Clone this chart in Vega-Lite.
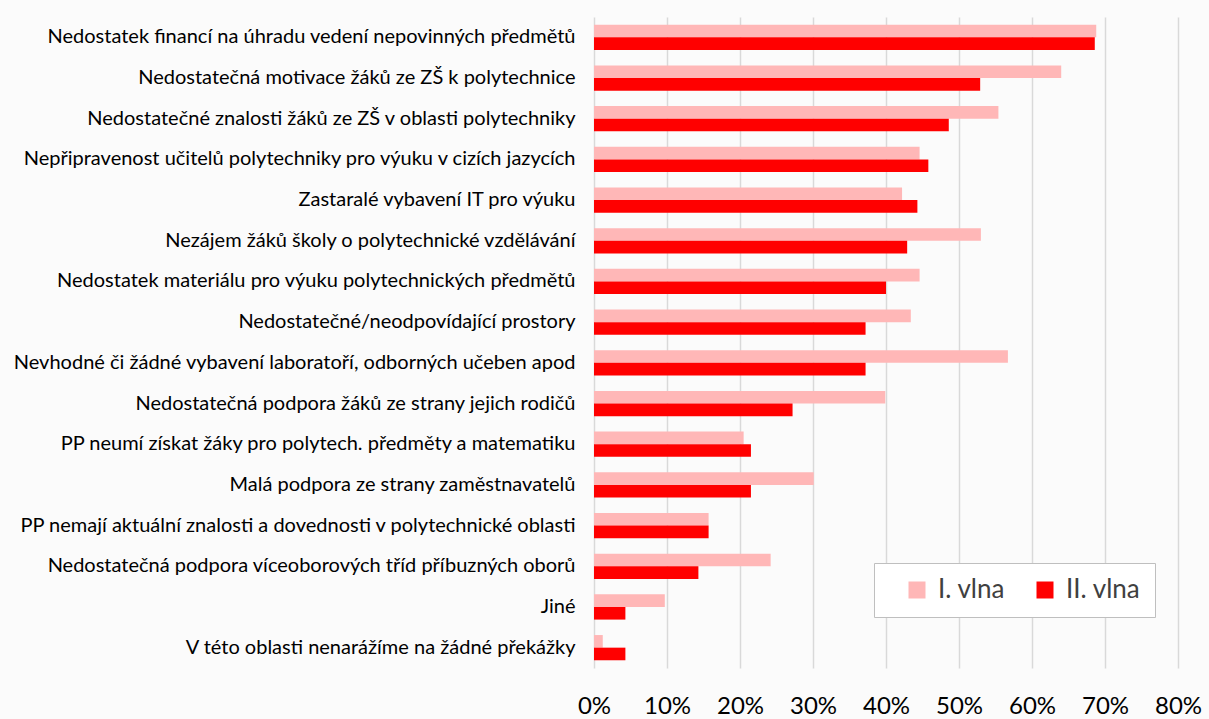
{
  "$schema": "https://vega.github.io/schema/vega-lite/v6.json",
  "width": 584,
  "height": 651,
  "autosize": {"type": "none"},
  "padding": {"left": 594, "top": 17, "right": 31, "bottom": 51},
  "background": "#FBFBFB",
  "config": {
    "view": {"stroke": null},
    "font": "Lato"
  },
  "data": {
    "values": [
      {"kategorie": "Nedostatek financí na úhradu vedení nepovinných předmětů", "vlna": "I. vlna", "podil": 0.688},
      {"kategorie": "Nedostatek financí na úhradu vedení nepovinných předmětů", "vlna": "II. vlna", "podil": 0.686},
      {"kategorie": "Nedostatečná motivace žáků ze ZŠ k polytechnice", "vlna": "I. vlna", "podil": 0.640},
      {"kategorie": "Nedostatečná motivace žáků ze ZŠ k polytechnice", "vlna": "II. vlna", "podil": 0.529},
      {"kategorie": "Nedostatečné znalosti žáků ze ZŠ v oblasti polytechniky", "vlna": "I. vlna", "podil": 0.554},
      {"kategorie": "Nedostatečné znalosti žáků ze ZŠ v oblasti polytechniky", "vlna": "II. vlna", "podil": 0.486},
      {"kategorie": "Nepřipravenost učitelů polytechniky pro výuku v cizích jazycích", "vlna": "I. vlna", "podil": 0.446},
      {"kategorie": "Nepřipravenost učitelů polytechniky pro výuku v cizích jazycích", "vlna": "II. vlna", "podil": 0.458},
      {"kategorie": "Zastaralé vybavení IT pro výuku", "vlna": "I. vlna", "podil": 0.422},
      {"kategorie": "Zastaralé vybavení IT pro výuku", "vlna": "II. vlna", "podil": 0.443},
      {"kategorie": "Nezájem žáků školy o polytechnické vzdělávání", "vlna": "I. vlna", "podil": 0.530},
      {"kategorie": "Nezájem žáků školy o polytechnické vzdělávání", "vlna": "II. vlna", "podil": 0.429},
      {"kategorie": "Nedostatek materiálu pro výuku polytechnických předmětů", "vlna": "I. vlna", "podil": 0.446},
      {"kategorie": "Nedostatek materiálu pro výuku polytechnických předmětů", "vlna": "II. vlna", "podil": 0.400},
      {"kategorie": "Nedostatečné/neodpovídající prostory", "vlna": "I. vlna", "podil": 0.434},
      {"kategorie": "Nedostatečné/neodpovídající prostory", "vlna": "II. vlna", "podil": 0.372},
      {"kategorie": "Nevhodné či žádné vybavení laboratoří, odborných učeben apod", "vlna": "I. vlna", "podil": 0.567},
      {"kategorie": "Nevhodné či žádné vybavení laboratoří, odborných učeben apod", "vlna": "II. vlna", "podil": 0.372},
      {"kategorie": "Nedostatečná podpora žáků ze strany jejich rodičů", "vlna": "I. vlna", "podil": 0.399},
      {"kategorie": "Nedostatečná podpora žáků ze strany jejich rodičů", "vlna": "II. vlna", "podil": 0.272},
      {"kategorie": "PP neumí získat žáky pro polytech. předměty a matematiku", "vlna": "I. vlna", "podil": 0.205},
      {"kategorie": "PP neumí získat žáky pro polytech. předměty a matematiku", "vlna": "II. vlna", "podil": 0.215},
      {"kategorie": "Malá podpora ze strany zaměstnavatelů", "vlna": "I. vlna", "podil": 0.301},
      {"kategorie": "Malá podpora ze strany zaměstnavatelů", "vlna": "II. vlna", "podil": 0.215},
      {"kategorie": "PP nemají aktuální znalosti a dovednosti v polytechnické oblasti", "vlna": "I. vlna", "podil": 0.157},
      {"kategorie": "PP nemají aktuální znalosti a dovednosti v polytechnické oblasti", "vlna": "II. vlna", "podil": 0.157},
      {"kategorie": "Nedostatečná podpora víceoborových tříd příbuzných oborů", "vlna": "I. vlna", "podil": 0.242},
      {"kategorie": "Nedostatečná podpora víceoborových tříd příbuzných oborů", "vlna": "II. vlna", "podil": 0.143},
      {"kategorie": "Jiné", "vlna": "I. vlna", "podil": 0.097},
      {"kategorie": "Jiné", "vlna": "II. vlna", "podil": 0.043},
      {"kategorie": "V této oblasti nenarážíme na žádné překážky", "vlna": "I. vlna", "podil": 0.012},
      {"kategorie": "V této oblasti nenarážíme na žádné překážky", "vlna": "II. vlna", "podil": 0.043}
    ]
  },
  "mark": {"type": "bar"},
  "encoding": {
    "y": {
      "field": "kategorie",
      "type": "nominal",
      "sort": null,
      "scale": {"paddingInner": 0.38, "paddingOuter": 0.19},
      "axis": {
        "title": null,
        "domain": false,
        "ticks": false,
        "labelPadding": 19,
        "labelLimit": 700,
        "labelFontSize": 20,
        "labelColor": "#000000",
        "labelFont": "Lato"
      }
    },
    "yOffset": {
      "field": "vlna",
      "type": "nominal",
      "sort": ["I. vlna", "II. vlna"],
      "scale": {"paddingInner": 0, "paddingOuter": 0}
    },
    "x": {
      "field": "podil",
      "type": "quantitative",
      "scale": {"domain": [0, 0.8], "nice": false},
      "axis": {
        "title": null,
        "format": ".0%",
        "values": [0, 0.1, 0.2, 0.3, 0.4, 0.5, 0.6, 0.7, 0.8],
        "domain": false,
        "ticks": false,
        "grid": true,
        "gridColor": "#D9D9D9",
        "gridWidth": 1.5,
        "labelPadding": 26,
        "labelFontSize": 24,
        "labelColor": "#000000",
        "labelFont": "Lato",
        "labelFlush": false
      }
    },
    "color": {
      "field": "vlna",
      "type": "nominal",
      "sort": ["I. vlna", "II. vlna"],
      "scale": {"domain": ["I. vlna", "II. vlna"], "range": ["#FFB7B7", "#FF0000"]},
      "legend": {
        "title": null,
        "orient": "none",
        "direction": "horizontal",
        "legendX": 280,
        "legendY": 546,
        "fillColor": "#FFFFFF",
        "strokeColor": "#BFBFBF",
        "padding": 14,
        "symbolType": "square",
        "symbolSize": 289,
        "symbolStrokeWidth": 0,
        "symbolOffset": 16,
        "labelFontSize": 26,
        "labelColor": "#404040",
        "labelFont": "Lato",
        "labelOffset": 8,
        "columnPadding": 10,
        "offset": 0
      }
    }
  }
}
